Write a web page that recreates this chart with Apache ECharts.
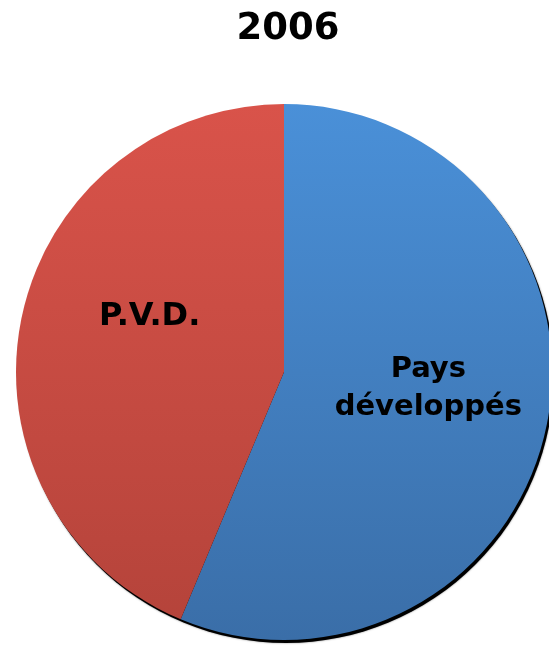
<!DOCTYPE html>
<html>
<head>
<meta charset="utf-8">
<script src="https://cdn.jsdelivr.net/npm/echarts@6/dist/echarts.min.js"></script>
<style>html,body{margin:0;padding:0;background:#fff;}#c{width:549px;height:645px;}</style>
</head>
<body>
<div id="c"></div>
<script>
var titleText = '2006';
var categories = ['Pays développés', 'P.V.D.'];
var values = [56.3, 43.7];
var labelTexts = ['Pays\ndéveloppés', 'P.V.D.'];

var FONT = '"DejaVu Sans", sans-serif';
function grad(top, bottom) {
  return new echarts.graphic.LinearGradient(0, 104, 0, 640, [
    { offset: 0, color: top }, { offset: 1, color: bottom }
  ], true);
}
var colors = [grad('#4a90d8', '#3a6ea8'), grad('#d9534a', '#b4433a')];
var shifts = [[10, -10], [0, -28]];
var labelSizes = [29, 32];

var chart = echarts.init(document.getElementById('c'), null, { renderer: 'canvas' });
chart.setOption({
  animation: false,
  backgroundColor: '#ffffff',
  title: {
    text: titleText,
    left: 283,
    textAlign: 'center',
    top: 6,
    textStyle: { fontFamily: FONT, fontWeight: 'bold', fontSize: 37, color: '#000' }
  },
  series: [
    {
      type: 'pie',
      silent: true,
      center: [286, 375],
      radius: 268,
      label: { show: false },
      labelLine: { show: false },
      itemStyle: { color: '#000', shadowColor: 'rgba(0,0,0,0.5)', shadowBlur: 2 },
      data: [{ value: 1, name: 'shadow' }],
      z: 1
    },
    {
      type: 'pie',
      center: [284, 372],
      radius: 268,
      startAngle: 90,
      clockwise: true,
      z: 2,
      itemStyle: { borderWidth: 0 },
      label: {
        show: true,
        position: 'inside',
        fontFamily: FONT,
        fontWeight: 'bold',
        lineHeight: 38,
        color: '#000',
        formatter: function (p) { return labelTexts[p.dataIndex]; }
      },
      labelLine: { show: false },
      labelLayout: function (p) {
        return { dx: shifts[p.dataIndex][0], dy: shifts[p.dataIndex][1] };
      },
      data: categories.map(function (c, i) {
        return {
          name: c,
          value: values[i],
          itemStyle: { color: colors[i] },
          label: { fontSize: labelSizes[i] }
        };
      })
    }
  ]
});
</script>
</body>
</html>
